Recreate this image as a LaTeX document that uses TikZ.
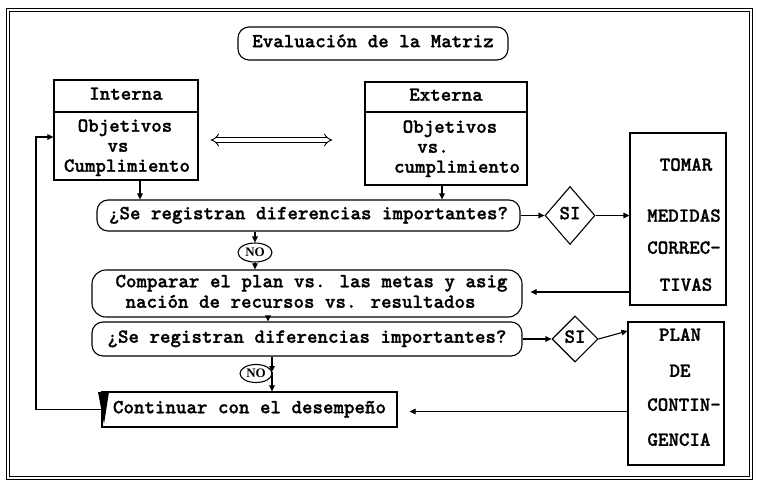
\documentclass[tikz,border=0pt]{standalone}
\usepackage{fontspec}
\newfontfamily\nofont{Liberation Serif}
\newfontfamily\tw{lmmonolt10-bold.otf}[FakeBold=1.2]
\usetikzlibrary{arrows.meta,shapes.geometric,calc}
\begin{document}
\begin{tikzpicture}[x=1pt,y=-1pt, line width=1.1pt,
  box/.style={draw, rectangle, inner sep=0pt},
  rbox/.style={draw, rectangle, rounded corners=11pt, inner sep=0pt},
  txt/.style={font=\tw\bfseries\fontsize{20}{21}\selectfont, inner sep=0pt, text height=10pt, text depth=2.5pt},
  arr/.style={-{Triangle[length=6pt,width=5.5pt]}},
  dia/.style={draw, diamond, inner sep=0pt},
  nobox/.style={draw, ellipse, inner sep=0pt, font=\nofont\bfseries\fontsize{13}{13}\selectfont},
  dblarr/.style={{Implies}-{Implies}, double, double distance=3.5pt, line width=0.9pt}]
\useasboundingbox (0,0) rectangle (757,486);
% frame
\draw[double, double distance=2.5pt, line width=0.9pt] (8,10) rectangle (751,478);
% title
\node[rbox, minimum width=270pt, minimum height=33pt, txt] (title) at (373,43.5) {Evaluación de la Matriz};
% Interna
\node[box, minimum width=144pt, minimum height=32pt, txt] (inth) at (126,96) {Interna};
\node[box, minimum width=144pt, minimum height=68pt] (intb) at (126,146) {};
\node[txt] (int1) at (125,128) {Objetivos};
\node[txt] (int2) at (118,148) {vs};
\node[txt] (int3) at (127,168) {Cumplimiento};
% Externa
\node[box, minimum width=162pt, minimum height=30pt, txt] (exth) at (446,97) {Externa};
\node[box, minimum width=162pt, minimum height=73pt] (extb) at (446,148.5) {};
\node[txt] (ext1) at (450,129) {Objetivos};
\node[txt] (ext2) at (433,149) {vs.};
\node[txt] (ext3) at (457,169) {cumplimiento};
% questions and process
\node[rbox, minimum width=423pt, minimum height=31pt, txt] (q1) at (308.5,215.5) {¿Se registran diferencias importantes?};
\node[nobox, minimum width=34pt, minimum height=19pt] (no1) at (255,252.5) {NO};
\node[rbox, rounded corners=14pt, minimum width=430pt, minimum height=47pt] (cmp) at (307,293.5) {};
\node[txt] (cmp1) at (311.5,283.5) {Comparar el plan vs. las metas y asig};
\node[txt, anchor=west] (cmp2) at (125,304) {nación de recursos vs. resultados};
\node[rbox, minimum width=430pt, minimum height=34pt, txt] (q2) at (307,339) {¿Se registran diferencias importantes?};
\node[nobox, minimum width=32pt, minimum height=18pt] (no2) at (256,373.5) {NO};
\node[box, minimum width=295pt, minimum height=35pt, txt] (cont) at (249.5,409.5) {Continuar con el desempeño};
\fill (98,392) -- (109,392) -- (104,424) -- cycle;
% diamonds
\node[dia, minimum width=50pt, minimum height=58pt, txt] (si1) at (570,215.5) {SI};
\node[dia, minimum width=46pt, minimum height=46pt, txt] (si2) at (575,339) {SI};
% right boxes
\node[box, minimum width=96pt, minimum height=172pt] (tom) at (678,219) {};
\node[txt] (tom1) at (686,167) {TOMAR};
\node[txt] (tom2) at (684,218) {MEDIDAS};
\node[txt] (tom3) at (684,250) {CORREC-};
\node[txt] (tom4) at (686,287) {TIVAS};
\node[box, minimum width=96pt, minimum height=143pt] (plan) at (676,393.5) {};
\node[txt] (plan1) at (680,337) {PLAN};
\node[txt] (plan2) at (680,373) {DE};
\node[txt] (plan3) at (684,407) {CONTIN-};
\node[txt] (plan4) at (679,442) {GENCIA};
% connectors
\draw[dblarr, shorten <=12pt, shorten >=32pt] ([yshift=6pt]intb.east) -- ([yshift=8.5pt]extb.west);
\draw[arr] ([xshift=14pt]intb.south) -- ([xshift=14pt]intb.south |- q1.north);
\draw[arr] ([xshift=-4pt]extb.south) -- ([xshift=-4pt]extb.south |- q1.north);
\draw[arr] (q1.east) -- (si1.west);
\draw[arr] (si1.east) -- (si1.east -| tom.west);
\draw[arr, shorten >=8pt] ([yshift=-73pt]tom.west) -- ([yshift=-73pt]tom.west -| cmp.east);
\draw[arr] (no1.north |- q1.south) -- (no1.north);
\draw[arr] (no1.south) -- (no1.south |- cmp.north);
\draw[arr] ([xshift=-39pt]cmp.south) -- ([xshift=-39pt]cmp.south |- q2.north);
\draw[arr] (q2.east) -- (si2.west);
\draw[arr] (si2.east) -- ([yshift=62.5pt]plan.west);
\coordinate (mid) at (272,372);
\draw[arr] (mid |- q2.south) -- (mid);
\draw[arr] (mid) -- (mid |- cont.north);
\draw[arr, shorten >=12pt] ([yshift=-18pt]plan.west) -- ([yshift=-18pt]plan.west -| cont.east);
\coordinate (lp1) at (36,409.5);
\coordinate (lp2) at (36,137);
\draw[arr] (cont.west) -- (lp1) -- (lp2) -- (lp2 -| intb.west);
\end{tikzpicture}
\end{document}
